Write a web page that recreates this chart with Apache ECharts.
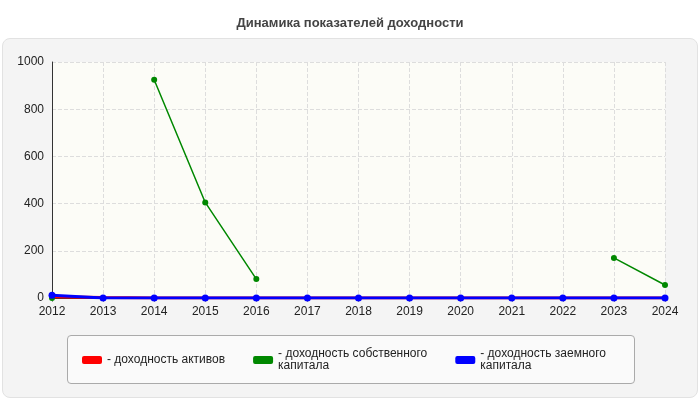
<!DOCTYPE html>
<html><head><meta charset="utf-8">
<script src="https://cdn.jsdelivr.net/npm/echarts@6/dist/echarts.min.js"></script>
<style>body{margin:0;background:#fff}#bg{position:absolute;left:2px;top:38px;width:694px;height:358px;background:#f4f4f4;border:1px solid #e2e2e2;border-radius:8px}#lg{position:absolute;left:67px;top:335px;width:566px;height:47px;background:#fafafa;border:1px solid #aaa;border-radius:4px}#c{position:absolute;left:0;top:0;width:700px;height:400px}</style>
</head><body><div id="bg"></div><div id="lg"></div><div id="c"></div>
<script>
const years=['2012','2013','2014','2015','2016','2017','2018','2019','2020','2021','2022','2023','2024'];
const assets=[5,2,0,0,0,0,0,0,0,0,0,0,0];
const equity=[0,null,925,405,80,null,null,null,null,null,null,170,55];
const debt=[12,0,0,0,0,0,0,0,0,0,0,0,0];
const yTicks=[0,200,400,600,800,1000];
const ch=echarts.init(document.getElementById('c'));
const ff='Arial, Liberation Sans, sans-serif';
ch.setOption({
 animation:false,
 title:{text:'Динамика показателей доходности',left:'center',top:12,textStyle:{fontSize:13,fontWeight:'bold',color:'#444',fontFamily:ff}},
 grid:{left:52,right:35,top:62,bottom:102,show:true,backgroundColor:'#fcfcf7',borderWidth:0},
 xAxis:{type:'category',data:years,boundaryGap:false,axisLine:{lineStyle:{color:'#333'}},axisTick:{show:true,length:4,lineStyle:{color:'#999'}},
  axisLabel:{color:'#222',fontSize:12,fontFamily:ff},splitLine:{show:true,lineStyle:{type:'dashed',color:'#ddd'}}},
 yAxis:{type:'value',min:0,max:1000,interval:200,axisLine:{show:true,lineStyle:{color:'#333'}},
  axisLabel:{color:'#222',fontSize:12,fontFamily:ff,formatter:v=>yTicks.includes(v)?String(v):''},splitLine:{lineStyle:{type:'dashed',color:'#ddd'}}},
 legend:{left:77,top:343,itemWidth:20,itemHeight:8,itemGap:28,icon:'roundRect',align:'left',
  textStyle:{fontSize:12,color:'#222',fontFamily:ff,lineHeight:12,verticalAlign:'top'},
  formatter:n=>'- '+n},
 series:[
  {name:'доходность активов',type:'line',data:assets,color:'#f00',symbol:'none',lineStyle:{width:3}},
  {name:'доходность собственного\nкапитала',type:'line',data:equity,color:'#080',symbol:'circle',symbolSize:6,lineStyle:{width:1.5}},
  {name:'доходность заемного\nкапитала',type:'line',data:debt,color:'#00f',symbol:'circle',symbolSize:7,lineStyle:{width:3}}
 ]
});
</script></body></html>
